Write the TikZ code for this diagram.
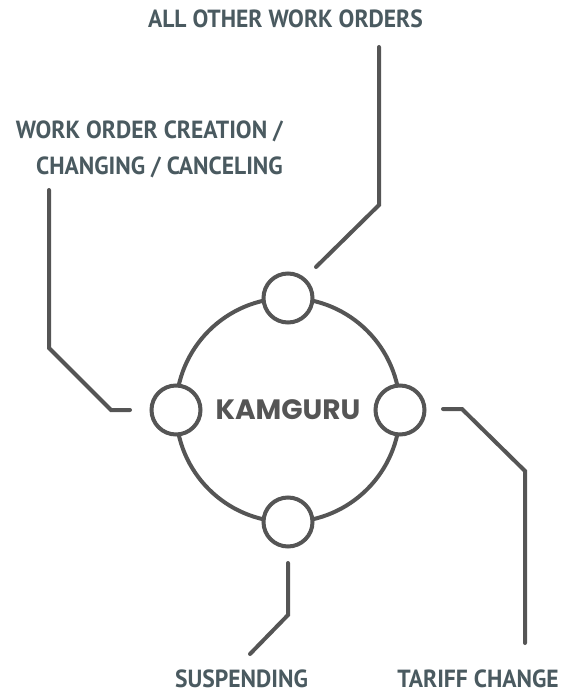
\documentclass[tikz,border=0pt]{standalone}
\usepackage{fontspec}
\setmainfont{PT Sans}
\newfontfamily\labelfont{PT Sans}[FakeStretch=0.95]
\newfontfamily\corefont{Poppins}
\definecolor{linegray}{HTML}{555555}
\definecolor{slate}{HTML}{4A5A60}
\begin{document}
\begin{tikzpicture}[x=1pt,y=-1pt,
  link/.style={draw=linegray,line width=4pt,line cap=round,line join=miter},
  port/.style={circle,draw=linegray,line width=4pt,fill=white,minimum size=49pt,inner sep=0pt},
  lbl/.style={text=slate,font=\labelfont\bfseries\fontsize{24.8}{36}\selectfont,inner sep=0pt}]
\useasboundingbox (0,0) rectangle (571,693);
\node[circle,draw=linegray,line width=4pt,minimum size=224pt,inner sep=0pt,
      text=linegray,font=\corefont\fontseries{sb}\fontsize{28}{28}\selectfont] (core) at (288,410) {KAMGURU};
\node[port] (ptop) at (288,298) {};
\node[port] (pleft) at (176,410) {};
\node[port] (pright) at (400,410) {};
\node[port] (pbot) at (288,522) {};
\node[lbl,anchor=base] (ltop) at (285.5,28) {ALL OTHER WORK ORDERS};
\node[lbl,align=right,anchor=north east] (lleft) at (283,121) {WORK ORDER CREATION /\\CHANGING / CANCELING};
\node[lbl,anchor=base] (lbot) at (241.5,687) {SUSPENDING};
\node[lbl,anchor=base] (lright) at (478,687) {TARIFF CHANGE};
% connector ends
\coordinate (t0) at (316,267);
\coordinate (t1) at (379,205);
\coordinate (t2) at (379,47);
\coordinate (l0) at (130,410);
\coordinate (l1) at (111,410);
\coordinate (l2) at (49,348);
\coordinate (l3) at (49,190);
\coordinate (r0) at (443,409);
\coordinate (r1) at (462,409);
\coordinate (r2) at (525,471);
\coordinate (r3) at (525,643);
\coordinate (b0) at (288,563);
\coordinate (b1) at (288,615);
\coordinate (b2) at (250,654);
\draw[link] (t0) -- (t1) -- (t2);
\draw[link] (l0) -- (l1) -- (l2) -- (l3);
\draw[link] (r0) -- (r1) -- (r2) -- (r3);
\draw[link] (b0) -- (b1) -- (b2);
\end{tikzpicture}
\end{document}
